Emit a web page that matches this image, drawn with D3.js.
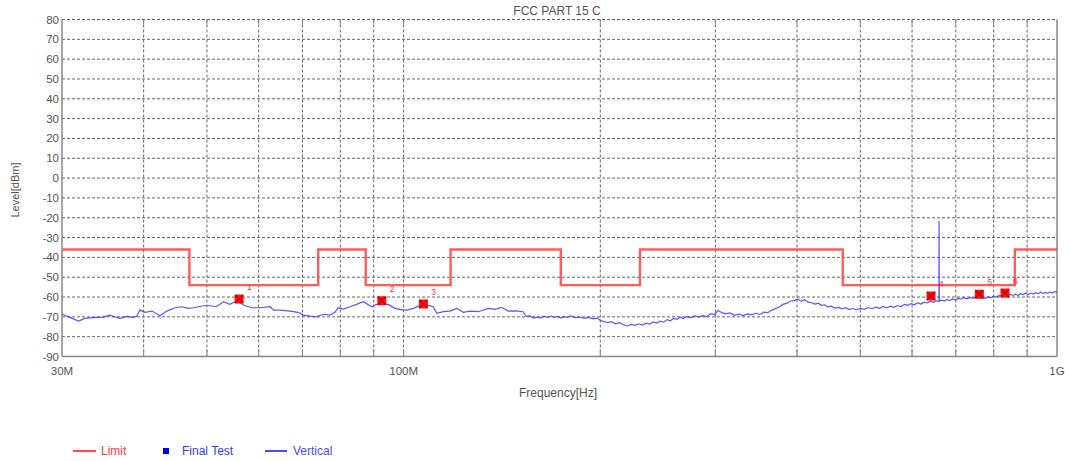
<!DOCTYPE html>
<html>
<head>
<meta charset="utf-8">
<script src="https://cdn.jsdelivr.net/npm/d3@7"></script>
<style>
  html, body { margin: 0; padding: 0; background: #fff; }
  svg { display: block; font-family: "Liberation Sans", Arial, sans-serif; }
</style>
</head>
<body>
<svg id="chart" width="1069" height="461"></svg>
<script>
// ---- DATA ----
const chartTitle = "FCC PART 15 C";
const yTicks = [80, 70, 60, 50, 40, 30, 20, 10, 0, -10, -20, -30, -40, -50, -60, -70, -80, -90];
const xGridMHz = [30, 40, 50, 60, 70, 80, 90, 100, 200, 300, 400, 500, 600, 700, 800, 900, 1000];
const xLabelMHz = [30, 100, 1000];
const xLabelText = ["30M", "100M", "1G"];

// Limit (step line), MHz / dBm
const limitFreq  = [30, 47, 47, 74, 74, 87.5, 87.5, 118, 118, 174, 174, 230, 230, 470, 470, 862, 862, 1000];
const limitLevel = [-36, -36, -54, -54, -36, -36, -54, -54, -36, -36, -54, -54, -36, -36, -54, -54, -36, -36];

// Final test markers
const markerFreq  = [56.0, 92.6, 107.2, 641.5, 760.6, 832.6];
const markerLevel = [-61.0, -61.9, -63.5, -59.5, -58.6, -58.0];
const markerLabel = ["1", "2", "3", "4", "5", "6"];

// Vertical sweep trace, MHz / dBm
const traceFreq = [
  30, 30.9, 31.8, 32.5, 33.5, 34.7, 35.5, 36.2, 36.8, 37.7, 38.4, 39.0, 39.5, 40.2, 41.2, 42.4, 43.4, 44.7, 45.7, 46.8,
  47.7, 49.4, 50.5, 51.7, 53.0, 54.2, 55.5, 57.2, 58.6, 60.3, 62.5, 63.2, 64.7, 67.0, 69.0, 70.2, 71.9, 73.6, 75.3, 77.1,
  78.5, 79.4, 80.8, 82.8, 84.7, 86.7, 89.4, 90.9, 94.7, 97.0, 99.9, 101.1, 103.5, 106.0, 109.1, 111.0, 112.4, 115.0, 117.8, 120.6,
  123.4, 126.4, 130.1, 134.8, 138.0, 141.3, 144.6, 148.5, 152.4,
  154, 156, 158, 160, 162, 164, 166, 168, 170, 172, 174, 176, 178, 180, 183, 186, 189, 192, 195, 198,
  200, 202, 205, 208, 211, 214, 217, 220, 223, 226, 229, 232, 235, 238, 241, 244, 247, 250, 253, 256,
  259, 262, 265, 268, 271, 275, 279, 283, 287, 291, 295, 299, 303, 307, 311, 316, 321, 326, 331, 336,
  341, 346, 351, 356, 361, 366, 371, 376, 381, 386, 391, 396, 401, 406, 411, 416, 421, 426, 431, 436,
  441, 446, 451, 457, 463, 469, 475, 481, 487, 493, 500, 507, 514, 521, 528, 535, 542, 549, 556, 563,
  570, 577, 584, 591, 598, 605, 612, 619, 626, 633, 640, 647, 654, 659.6, 660, 660.4, 666, 672, 678, 685,
  692, 699, 706, 713, 720, 728, 736, 744, 752, 760, 768, 776, 784, 792, 800, 808, 816, 824, 832, 840,
  848, 856, 864, 872, 880, 888, 896, 904, 912, 920, 928, 936, 944, 952, 960, 968, 976, 984, 992, 1000
];
const traceLevel = [
  -68.7, -70.4, -72.1, -70.8, -70.4, -70.1, -69.1, -70.1, -70.8, -69.8, -70.3, -69.8, -66.6, -67.7, -67.1, -69.5, -67.1, -65.4, -64.9, -65.7,
  -65.4, -64.4, -64.4, -64.9, -62.4, -63.7, -62.0, -64.4, -65.4, -65.4, -64.9, -66.6, -66.6, -67.1, -67.7, -69.1, -69.6, -70.0, -68.7, -69.1,
  -67.7, -65.4, -66.1, -64.9, -63.7, -62.4, -64.9, -63.7, -63.7, -65.7, -66.6, -66.6, -65.7, -64.2, -64.2, -64.9, -68.2, -67.4, -67.1, -65.7,
  -67.7, -67.1, -67.4, -65.7, -66.2, -65.2, -67.1, -67.0, -67.4,
  -69.8, -69.5, -70.6, -70.1, -70.5, -69.7, -70.3, -69.6, -70.2, -69.8, -70.6, -69.9, -70.3, -69.5, -70.4, -70.1, -70.8, -70.3, -71.0, -70.6,
  -71.8, -72.2, -72.9, -72.4, -73.5, -72.9, -74.0, -74.6, -73.8, -74.3, -73.5, -74.1, -73.2, -73.7, -72.6, -73.1, -72.2, -72.7, -71.4, -72.0,
  -70.8, -71.3, -70.2, -70.9, -69.8, -70.4, -69.5, -70.1, -69.4, -69.9, -68.4, -68.8, -66.8, -67.9, -68.5, -68.0, -69.2, -68.6, -69.4, -68.5,
  -69.0, -68.2, -68.8, -67.6, -67.9, -66.6, -65.8, -65.0, -63.6, -63.2, -62.0, -61.8, -61.0, -62.2, -61.4, -62.6, -62.9, -63.6, -63.1, -64.2,
  -63.9, -65.0, -64.6, -65.6, -65.2, -66.0, -65.4, -66.3, -65.8, -66.4, -65.7, -66.2, -65.3, -65.9, -65.1, -65.7, -64.8, -65.5, -64.6, -65.2,
  -64.3, -64.9, -63.7, -64.2, -63.3, -63.9, -62.9, -63.5, -62.6, -63.0, -62.1, -62.7, -61.9, -62.2, -21.7, -62.0, -61.6, -62.0, -61.2, -61.8,
  -61.0, -61.5, -60.6, -61.1, -60.3, -60.9, -60.2, -60.7, -59.9, -60.6, -60.1, -60.8, -59.8, -60.4, -59.5, -60.0, -59.2, -59.7, -58.9, -59.5,
  -58.7, -59.2, -58.6, -59.1, -58.3, -58.8, -58.1, -58.7, -58.0, -58.5, -57.8, -58.3, -57.6, -58.2, -57.7, -58.1, -57.5, -57.9, -57.3, -57.6
];

// ---- LAYOUT ----
const svg = d3.select("#chart");
const L = 62, R = 1057, T = 19.5, B = 356.5;
const x = d3.scaleLog().domain([30, 1000]).range([L, R]);
const y = d3.scaleLinear().domain([-90, 80]).range([B, T]);
const textCol = "#555";

// grid
const g = svg.append("g");
g.selectAll("line.hg").data(yTicks).enter().append("line")
  .attr("x1", L).attr("x2", R).attr("y1", d => y(d)).attr("y2", d => y(d))
  .attr("stroke", "#666").attr("stroke-width", 1).attr("stroke-dasharray", "3,2");
g.selectAll("line.vg").data(xGridMHz.slice(1, -1)).enter().append("line")
  .attr("y1", T).attr("y2", B).attr("x1", d => x(d)).attr("x2", d => x(d))
  .attr("stroke", "#666").attr("stroke-width", 1).attr("stroke-dasharray", "3,2");

// axes frame
const axisCol = "#888";
g.append("line").attr("x1", L).attr("x2", L).attr("y1", T).attr("y2", B).attr("stroke", axisCol).attr("stroke-width", 1.5);
g.append("line").attr("x1", L).attr("x2", R).attr("y1", B).attr("y2", B).attr("stroke", axisCol).attr("stroke-width", 1.5);
g.append("line").attr("x1", R).attr("x2", R).attr("y1", T).attr("y2", B).attr("stroke", axisCol).attr("stroke-width", 1.5);
// ticks bottom & top
g.selectAll("line.bt").data(xGridMHz.slice(1, -1)).enter().append("line")
  .attr("x1", d => x(d)).attr("x2", d => x(d)).attr("y1", B).attr("y2", B - 7)
  .attr("stroke", axisCol).attr("stroke-width", 1);
g.selectAll("line.tt").data(xGridMHz.slice(1, -1)).enter().append("line")
  .attr("x1", d => x(d)).attr("x2", d => x(d)).attr("y1", T).attr("y2", T + 5)
  .attr("stroke", axisCol).attr("stroke-width", 1);

// y labels
svg.selectAll("text.yl").data(yTicks).enter().append("text")
  .attr("x", 59).attr("y", d => y(d) + 4).attr("text-anchor", "end")
  .attr("font-size", 11.5).attr("fill", textCol).text(d => d);
// x labels
svg.selectAll("text.xl").data(xLabelMHz).enter().append("text")
  .attr("x", d => x(d)).attr("y", 375).attr("text-anchor", "middle")
  .attr("font-size", 11.5).attr("fill", textCol).text((d, i) => xLabelText[i]);

// titles
svg.append("text").attr("x", 557).attr("y", 15).attr("text-anchor", "middle")
  .attr("font-size", 12).attr("fill", textCol).text(chartTitle);
svg.append("text").attr("x", 558).attr("y", 397).attr("text-anchor", "middle")
  .attr("font-size", 12).attr("fill", textCol).text("Frequency[Hz]");
svg.append("text").attr("transform", "translate(19,190) rotate(-90)").attr("text-anchor", "middle")
  .attr("font-size", 11).attr("fill", textCol).text("Level[dBm]");

// limit line
const limitData = limitFreq.map((f, i) => [f, limitLevel[i]]);
svg.append("path").datum(limitData)
  .attr("d", d3.line().x(d => x(d[0])).y(d => y(d[1])))
  .attr("fill", "none").attr("stroke", "#ff4a4a").attr("stroke-width", 2.4).attr("stroke-opacity", 0.9);

// trace
const traceData = traceFreq.map((f, i) => [f, traceLevel[i]]);
svg.append("path").datum(traceData)
  .attr("d", d3.line().x(d => x(d[0])).y(d => y(d[1])))
  .attr("fill", "none").attr("stroke", "#3a3aff").attr("stroke-width", 1.2).attr("stroke-opacity", 0.85);

// markers
const markers = markerFreq.map((f, i) => ({ f, v: markerLevel[i], lab: markerLabel[i] }));
const mg = svg.selectAll("g.mk").data(markers).enter().append("g")
  .attr("transform", d => `translate(${x(d.f)},${y(d.v)})`);
mg.append("rect").attr("x", -4.5).attr("y", -4.5).attr("width", 9).attr("height", 9).attr("fill", "#ff1010");
mg.append("path").attr("d", "M-4,-4L4,4M4,-4L-4,4").attr("stroke", "#c00000").attr("stroke-width", 1.2);
mg.append("text").attr("x", 8).attr("y", -9).attr("font-size", 8.5).attr("fill", "#ff3030").text(d => d.lab);

// legend
const ly = 451;
svg.append("line").attr("x1", 73).attr("x2", 96).attr("y1", ly).attr("y2", ly).attr("stroke", "#ff4a4a").attr("stroke-width", 2);
svg.append("text").attr("x", 101).attr("y", ly + 4).attr("font-size", 12).attr("fill", "#ff3a3a").text("Limit");
svg.append("rect").attr("x", 163).attr("y", ly - 3).attr("width", 6).attr("height", 6).attr("fill", "#0000ee");
svg.append("text").attr("x", 182).attr("y", ly + 4).attr("font-size", 12).attr("fill", "#3a3aff").text("Final Test");
svg.append("line").attr("x1", 265).attr("x2", 287).attr("y1", ly).attr("y2", ly).attr("stroke", "#4a4aff").attr("stroke-width", 2);
svg.append("text").attr("x", 293).attr("y", ly + 4).attr("font-size", 12).attr("fill", "#4a4aff").text("Vertical");
</script>
</body>
</html>
